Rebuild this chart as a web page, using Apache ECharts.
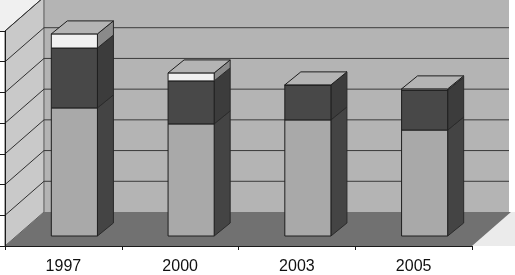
<!DOCTYPE html>
<html>
<head>
<meta charset="utf-8">
<style>html,body{margin:0;padding:0;background:#fff}#c{width:515px;height:275px}</style>
<script src="https://cdn.jsdelivr.net/npm/echarts@6/dist/echarts.min.js"></script>
</head>
<body>
<div id="c"></div>
<script>
var categories = ['1997', '2000', '2003', '2005'];
var lowerValues = [4.17, 3.65, 3.78, 3.45];
var middleValues = [1.95, 1.40, 1.14, 1.30];
var upperValues = [0.46, 0.26, 0, 0.04];
var yTicks = [0, 1, 2, 3, 4, 5, 6, 7];

var WALL_DX = 39, WALL_DY = 34;
var BAR_DX = 11, BAR_DY = 10;
var SIDE_DX = 16, SIDE_DY = 13;
var BAR_RATIO = 0.395;
var EDGE = '#1e1e1e';

function poly(points, fill, stroke, lw) {
  return {
    type: 'polygon',
    shape: { points: points },
    style: { fill: fill, stroke: stroke || null, lineWidth: lw || 0 }
  };
}

function renderWalls(params, api) {
  var r = params.coordSys;
  var l = r.x, t = r.y, b = r.y + r.height, e = r.x + r.width;
  return {
    type: 'group',
    children: [
      poly([[0, 0], [l + WALL_DX, 0], [l, t], [0, t]], '#f0f0f0'),
      poly([[e, b], [e + WALL_DX, b - WALL_DY], [e + WALL_DX + 4, b - WALL_DY], [e + WALL_DX + 4, b]], '#ebebeb'),
      poly([[l + WALL_DX, t - WALL_DY], [e + WALL_DX - 2, t - WALL_DY], [e + WALL_DX - 2, b - WALL_DY], [l + WALL_DX, b - WALL_DY]], '#b4b4b4'),
      poly([[l, t], [l + WALL_DX, t - WALL_DY], [l + WALL_DX, b - WALL_DY], [l, b]], '#c9c9c9', '#555', 1),
      {
        type: 'line',
        shape: { x1: l + WALL_DX, y1: t - WALL_DY, x2: l + WALL_DX, y2: b - WALL_DY },
        style: { stroke: '#8a8a8a', lineWidth: 2 }
      },
      poly([[l, b], [e, b], [e + WALL_DX, b - WALL_DY], [l + WALL_DX, b - WALL_DY]], '#717171')
    ]
  };
}

function renderGrid(params, api) {
  var r = params.coordSys;
  var v = api.value(0);
  var y = api.coord([0, v])[1];
  var l = r.x, e = r.x + r.width;
  if (v === 0) return null;
  return {
    type: 'group',
    children: [
      { type: 'line', shape: { x1: l, y1: y, x2: l + WALL_DX, y2: y - WALL_DY }, style: { stroke: '#303030', lineWidth: 1 } },
      { type: 'line', shape: { x1: l + WALL_DX, y1: y - WALL_DY, x2: e + WALL_DX - 2, y2: y - WALL_DY }, style: { stroke: '#3a3a3a', lineWidth: 1 } }
    ]
  };
}

function makeBarRender(front, side, withTop) {
  return function (params, api) {
    var idx = api.value(0);
    var w = api.size([1, 0])[0] * BAR_RATIO;
    var p0 = api.coord([idx, api.value(1)]);
    var p1 = api.coord([idx, api.value(2)]);
    var x0 = p0[0] + BAR_DX - w / 2, x1 = x0 + w;
    var yb = p0[1] - BAR_DY, yt = p1[1] - BAR_DY;
    var kids = [
      poly([[x1, yb], [x1 + SIDE_DX, yb - SIDE_DY], [x1 + SIDE_DX, yt - SIDE_DY], [x1, yt]], side, '#2a2a2a', 1),
      poly([[x0, yb], [x1, yb], [x1, yt], [x0, yt]], front, EDGE, 1)
    ];
    if (withTop) {
      kids.push(poly([[x0, yt], [x1, yt], [x1 + SIDE_DX, yt - SIDE_DY], [x0 + SIDE_DX, yt - SIDE_DY]], '#b4b4b4', EDGE, 1));
    }
    return { type: 'group', children: kids };
  };
}

function stackData(values, below) {
  return values.map(function (v, i) {
    var s = below.reduce(function (a, arr) { return a + arr[i]; }, 0);
    return [i, s, s + v];
  });
}

var chart = echarts.init(document.getElementById('c'), null, { renderer: 'canvas' });
chart.setOption({
  animation: false,
  backgroundColor: '#ffffff',
  grid: { left: 5, right: 43, top: 31, bottom: 29 },
  xAxis: {
    type: 'category',
    data: categories,
    z: 10,
    axisLine: { lineStyle: { color: '#1a1a1a', width: 1 } },
    axisTick: { show: true, length: 4, alignWithLabel: false, lineStyle: { color: '#1a1a1a' } },
    axisLabel: { color: '#111111', fontFamily: 'Liberation Sans', fontSize: 16, margin: 13 }
  },
  yAxis: {
    type: 'value',
    min: 0,
    max: 7,
    interval: 1,
    z: 10,
    axisLine: { show: true, lineStyle: { color: '#1a1a1a', width: 1 } },
    axisTick: { show: true, length: 5, lineStyle: { color: '#1a1a1a' } },
    axisLabel: { show: false },
    splitLine: { show: false }
  },
  series: [
    { type: 'custom', name: 'walls', coordinateSystem: 'cartesian2d', clip: false, z: 1, renderItem: renderWalls, data: [[0, 0]], silent: true },
    { type: 'custom', name: 'grid', coordinateSystem: 'cartesian2d', clip: false, z: 2, renderItem: renderGrid, encode: { y: 0 }, data: yTicks.map(function (t) { return [t]; }), silent: true },
    { type: 'custom', name: 'lower', coordinateSystem: 'cartesian2d', clip: false, z: 3, renderItem: makeBarRender('#a9a9a9', '#444444', false), data: stackData(lowerValues, []) },
    { type: 'custom', name: 'middle', coordinateSystem: 'cartesian2d', clip: false, z: 4, renderItem: makeBarRender('#484848', '#3c3c3c', false), data: stackData(middleValues, [lowerValues]) },
    { type: 'custom', name: 'upper', coordinateSystem: 'cartesian2d', clip: false, z: 5, renderItem: makeBarRender('#f0f0f0', '#8a8a8a', true), data: stackData(upperValues, [lowerValues, middleValues]) }
  ]
});
</script>
</body>
</html>
